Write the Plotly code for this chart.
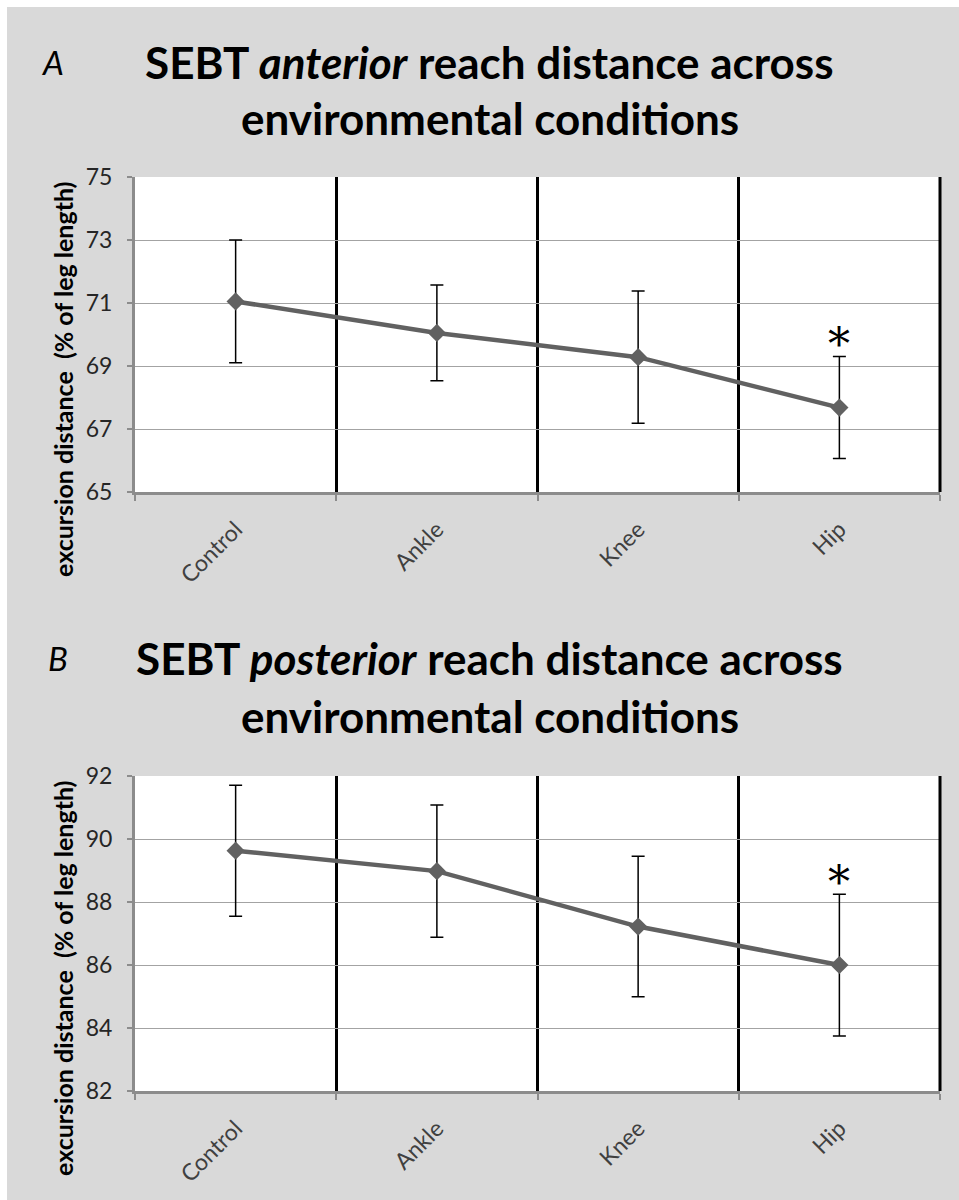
import plotly.graph_objects as go

categories = ["Control", "Ankle", "Knee", "Hip"]
anterior_mean = [71.05, 70.05, 69.28, 67.68]
anterior_err = [1.95, 1.52, 2.10, 1.62]
posterior_mean = [89.63, 88.98, 87.22, 86.0]
posterior_err = [2.08, 2.10, 2.23, 2.25]
anterior_ticks = [65, 67, 69, 71, 73, 75]
posterior_ticks = [82, 84, 86, 88, 90, 92]
significant = ["Hip"]

W, H = 959, 1200
LINE_COLOR = "#616161"
AXIS_GRAY = "#8c8c8c"
FONT = "Lato"


def px_x(p):
    return p / W


def px_y(p):
    return 1 - p / H


fig = go.Figure()

panels = [
    dict(mean=anterior_mean, err=anterior_err, ticks=anterior_ticks,
         xa="x", ya="y", top=177, bottom=492),
    dict(mean=posterior_mean, err=posterior_err, ticks=posterior_ticks,
         xa="x2", ya="y2", top=776, bottom=1091),
]

for p in panels:
    fig.add_trace(go.Scatter(
        x=categories, y=p["mean"], xaxis=p["xa"], yaxis=p["ya"],
        mode="lines+markers",
        line=dict(color=LINE_COLOR, width=4.5),
        marker=dict(symbol="diamond", size=14, color=LINE_COLOR),
        error_y=dict(type="data", array=p["err"], visible=True,
                     color="black", thickness=1.5, width=6.5),
        showlegend=False, hoverinfo="skip",
    ))
    # significance markers
    for c, m, e in zip(categories, p["mean"], p["err"]):
        if c in significant:
            fig.add_annotation(
                x=c, y=m + e, xref=p["xa"], yref=p["ya"], text="*",
                showarrow=False, yanchor="middle", yshift=12,
                font=dict(family="DejaVu Serif", size=44, color="black"),
            )
    # black right-hand border of the plot frame
    fig.add_shape(type="line", xref=f"{p['xa']} domain", yref=f"{p['ya']} domain",
                  x0=1, x1=1, y0=0, y1=1, line=dict(color="black", width=3))

for i, p in enumerate(panels):
    sx = "" if i == 0 else "2"
    fig.update_layout(**{
        f"xaxis{sx}": dict(
            type="category", categoryorder="array", categoryarray=categories,
            range=[-0.5, 3.5], tickson="boundaries",
            domain=[px_x(135), px_x(940)], anchor=p["ya"],
            showgrid=True, gridcolor="black", gridwidth=3,
            showline=True, linecolor=AXIS_GRAY, linewidth=3,
            ticks="outside", ticklen=6, tickwidth=2, tickcolor=AXIS_GRAY,
            tickangle=-45, ticklabelstandoff=12,
            tickfont=dict(family=FONT, size=23, color="#404040"),
            automargin=False, zeroline=False, fixedrange=True,
        ),
        f"yaxis{sx}": dict(
            range=[p["ticks"][0], p["ticks"][-1]], tickvals=p["ticks"],
            domain=[px_y(p["bottom"]), px_y(p["top"])], anchor=p["xa"],
            showgrid=True, gridcolor="#a3a3a3", gridwidth=1.3,
            showline=True, linecolor=AXIS_GRAY, linewidth=3,
            ticks="outside", ticklen=5, tickwidth=2, tickcolor=AXIS_GRAY,
            tickfont=dict(family=FONT, size=23, color="#262626"),
            ticklabelstandoff=10,
            automargin=False, zeroline=False, fixedrange=True,
        ),
    })

# titles
titles = [
    ("A", "SEBT <i>anterior</i> reach distance across", 62, 118, 52),
    ("B", "SEBT <i>posterior</i> reach distance across", 658, 716, 58),
]
for letter, line1, y1, y2, lx in titles:
    fig.add_annotation(x=px_x(lx), y=px_y(y1), xref="paper", yref="paper",
                       text=f"<i>{letter}</i>", showarrow=False,
                       font=dict(family=FONT, size=33, color="black"),
                       xanchor="center", yanchor="middle")
    fig.add_annotation(x=px_x(489), y=px_y(y1), xref="paper", yref="paper",
                       text=f"<b>{line1}</b>", showarrow=False,
                       font=dict(family=FONT, size=44, color="black"),
                       xanchor="center", yanchor="middle")
    fig.add_annotation(x=px_x(490), y=px_y(y2), xref="paper", yref="paper",
                       text="<b>environmental conditions</b>", showarrow=False,
                       font=dict(family=FONT, size=44, color="black"),
                       xanchor="center", yanchor="middle")

for cy in (380, 979):
    fig.add_annotation(x=px_x(63), y=px_y(cy), xref="paper", yref="paper",
                       text="<b>excursion distance  (% of leg length)</b>",
                       textangle=-90, showarrow=False,
                       font=dict(family="Liberation Sans Narrow, Lato", size=25,
                                 color="black"),
                       xanchor="center", yanchor="middle")

# white page border strips (top and left)
fig.add_shape(type="rect", xref="paper", yref="paper", x0=0, x1=px_x(7),
              y0=0, y1=1, fillcolor="white", line_width=0, layer="below")
fig.add_shape(type="rect", xref="paper", yref="paper", x0=0, x1=1,
              y0=px_y(7), y1=1, fillcolor="white", line_width=0, layer="below")

fig.update_layout(
    width=W, height=H, margin=dict(l=0, r=0, t=0, b=0),
    paper_bgcolor="#d9d9d9", plot_bgcolor="white",
    template="none", showlegend=False,
)

fig.write_html("out.html")
